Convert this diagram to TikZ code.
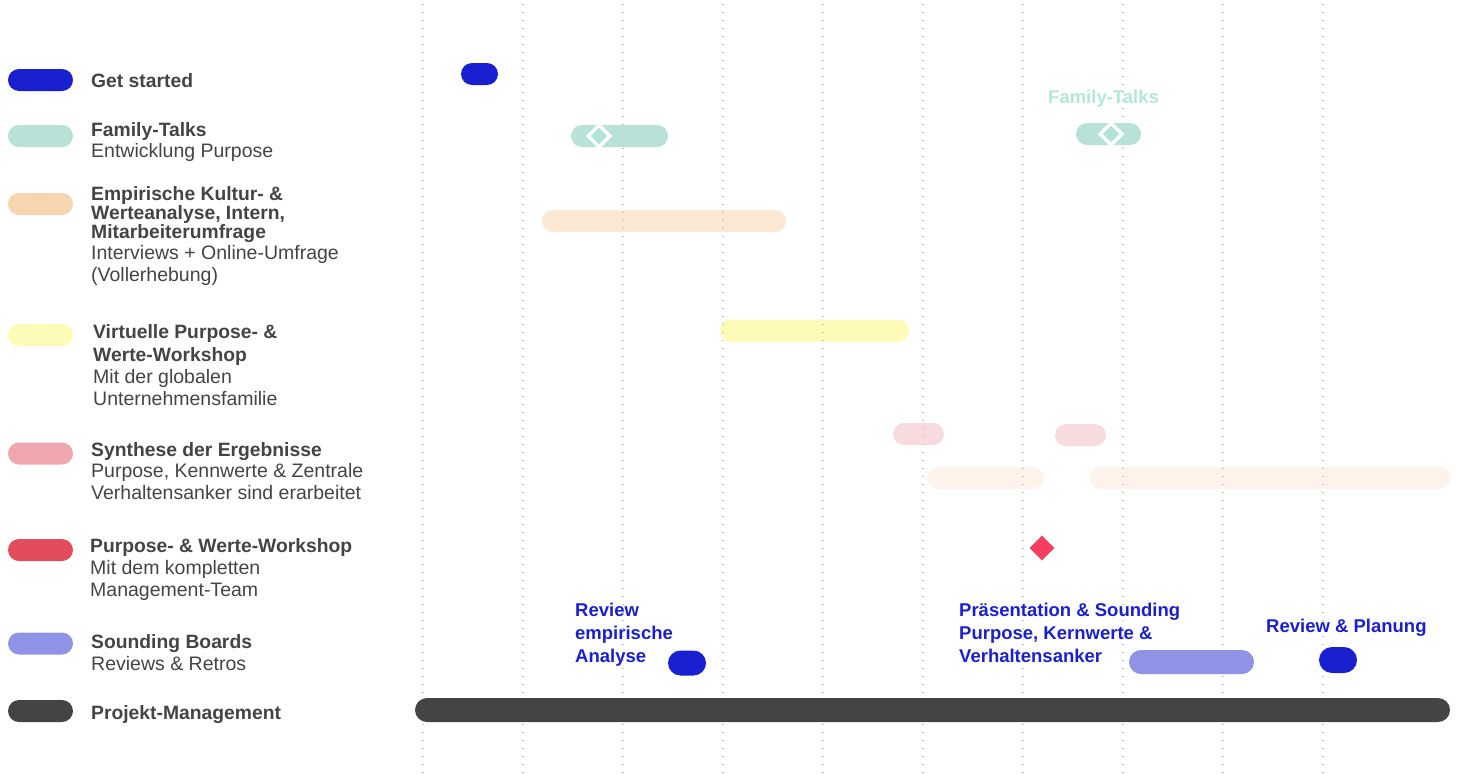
\documentclass[tikz,border=0pt]{standalone}
\usepackage{fontspec}
\setmainfont{Liberation Sans}
\usetikzlibrary{shapes.geometric,shapes.misc,positioning}

\definecolor{ink}{HTML}{444444}
\definecolor{royal}{HTML}{1A20D0}
\definecolor{mint}{HTML}{B8E2D8}
\definecolor{mintdot}{HTML}{AEE5D8}
\definecolor{mintlabel}{HTML}{B3E7DA}
\definecolor{peach}{HTML}{F7D5B1}
\definecolor{peachbar}{HTML}{FBE9D6}
\definecolor{cream}{HTML}{FDF3EA}
\definecolor{lemon}{HTML}{FEFBB6}
\definecolor{rose}{HTML}{EFA7AD}
\definecolor{rosebar}{HTML}{F8DBDE}
\definecolor{cherry}{HTML}{E24C5C}
\definecolor{ruby}{HTML}{F43F5E}
\definecolor{lavender}{HTML}{8E93E6}
\definecolor{gridgray}{HTML}{C4C4C4}

\tikzset{
  pill/.style={rounded rectangle, inner sep=0pt, minimum height=22, minimum width=#1},
  pill/.default=65,
  gem/.style={diamond, inner sep=0pt, minimum size=#1},
  ttl/.style={anchor=base west, inner sep=0pt, align=left, text=ink,
    font=\bfseries\fontsize{19.3}{22.8}\selectfont},
  dsc/.style={anchor=base west, inner sep=0pt, align=left, text=ink,
    font=\fontsize{19.5}{22}\selectfont},
  note/.style={ttl, text=royal, font=\bfseries\fontsize{18.5}{22.8}\selectfont},
  gridline/.style={draw=gridgray, line width=1.3pt, dash pattern=on 1.3pt off 6.7pt}
}

\begin{document}
\begin{tikzpicture}[x=1pt, y=-1pt]
    \useasboundingbox (0,0) rectangle (1457,774);

    % legend (base anchor = baseline of the last line)
    \node [pill, fill=royal] (k1) at (40.5,80) {};
    \node [pill, fill=mint] (k2) at (40.5,136) {};
    \node [pill, fill=peach] (k3) at (40.5,204) {};
    \node [pill, fill=lemon] (k4) at (40.5,335) {};
    \node [pill, fill=rose] (k5) at (40.5,453.5) {};
    \node [pill, fill=cherry] (k6) at (40.5,550) {};
    \node [pill, fill=lavender] (k7) at (40.5,643.5) {};
    \node [pill, fill=ink] (k8) at (40.5,711) {};

    \node [ttl] (t1) at (91,87) {Get started};
    \node [ttl] (t2) at (91,136) {Family-Talks};
    \node [dsc] (d2) at (91,157) {Entwicklung Purpose};
    \node [ttl, font=\bfseries\fontsize{19.3}{17.6}\selectfont] (t3) at (91,238)
        {Empirische Kultur- \&\\Werteanalyse, Intern,\\Mitarbeiterumfrage};
    \node [dsc] (d3) at (91,281) {Interviews + Online-Umfrage\\(Vollerhebung)};
    \node [ttl] (t4) at (93,361.5) {Virtuelle Purpose- \&\\Werte-Workshop};
    \node [dsc] (d4) at (93,405.5) {Mit der globalen\\Unternehmensfamilie};
    \node [ttl] (t5) at (91,456) {Synthese der Ergebnisse};
    \node [dsc] (d5) at (91,499) {Purpose, Kennwerte \& Zentrale\\Verhaltensanker sind erarbeitet};
    \node [ttl] (t6) at (90,552) {Purpose- \& Werte-Workshop};
    \node [dsc] (d6) at (90,596) {Mit dem kompletten\\Management-Team};
    \node [ttl] (t7) at (91,648) {Sounding Boards};
    \node [dsc] (d7) at (91,670) {Reviews \& Retros};
    \node [ttl] (t8) at (91,719) {Projekt-Management};

    % pale bars (grid shows through)
    \node [pill=97, fill=mint] (talk1) at (619.5,136) {};
    \node [pill=65, fill=mint] (talk2) at (1108.5,134) {};
    \node [pill=244, fill=peachbar] (emp) at (664,221) {};
    \node [pill=189, fill=lemon] (virt) at (814.5,330.5) {};
    \node [pill=51, fill=rosebar] (syn1) at (918.5,434) {};
    \node [pill=51, fill=rosebar] (syn2) at (1080.5,435) {};
    \node [pill=117, fill=cream] (work1) at (985.5,478) {};
    \node [pill=360, fill=cream] (work2) at (1270,478) {};

    \foreach \x in {423,523,...,1323}
        \draw [gridline] (\x,4) -- (\x,774);

    % strong bars
    \node [pill=37, fill=royal] (start) at (479.5,74) {};
    \node [gem=23, fill=mintdot, draw=white, line width=3.5pt] (g1) at (599,136) {};
    \node [gem=23, fill=mintdot, draw=white, line width=3.5pt] (g2) at (1111,134) {};
    \node [gem=25, fill=ruby] (ws) at (1042,548) {};
    \node [pill=38, minimum height=25, fill=royal] (rev1) at (687,663) {};
    \node [pill=125, minimum height=24, fill=lavender] (sound) at (1191.5,662) {};
    \node [pill=38, minimum height=26, fill=royal] (rev2) at (1338,660) {};
    \node [pill=1035, minimum height=24, fill=ink] (pm) at (932.5,710) {};

    % labels in the chart
    \node [note, text=mintlabel] (l1) at (1048,103) {Family-Talks};
    \node [note] (l2) at (575,662) {Review\\empirische\\Analyse};
    \node [note] (l3) at (959,662) {Präsentation \& Sounding\\Purpose, Kernwerte \&\\Verhaltensanker};
    \node [note] (l4) at (1266,632) {Review \& Planung};
\end{tikzpicture}
\end{document}
